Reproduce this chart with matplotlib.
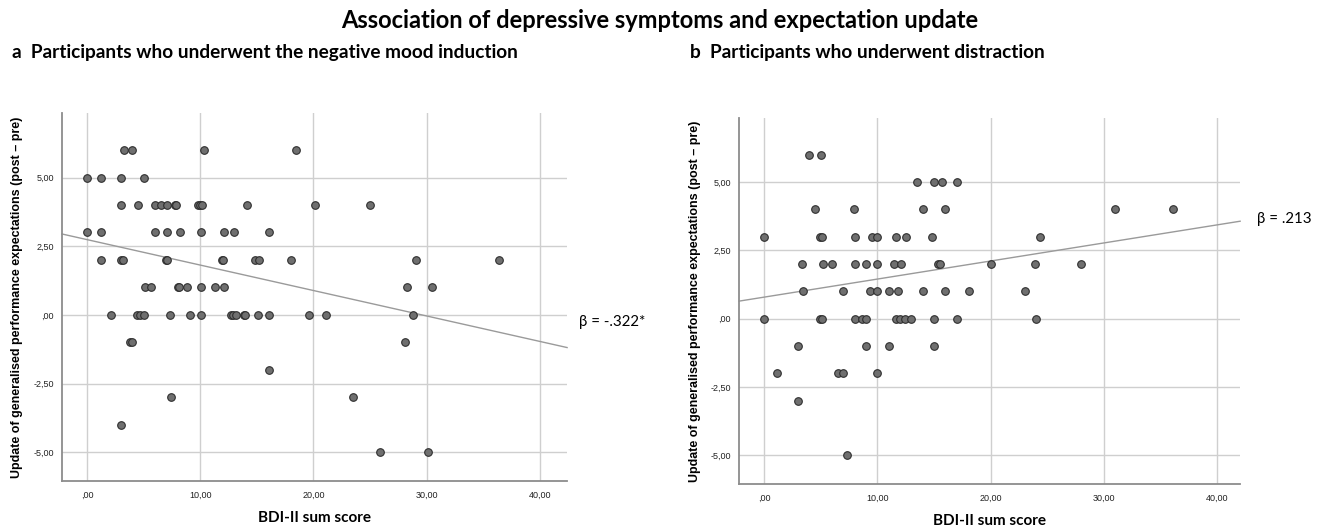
import matplotlib
matplotlib.use("Agg")
import matplotlib.pyplot as plt
from matplotlib.ticker import FuncFormatter
import numpy as np

# ---- data (BDI-II score, expectation update) ----
neg_bdi = [3.3, 4.0, 10.3, 18.5,
           0.0, 1.2, 3.0, 5.0,
           3.0, 4.5, 6.0, 6.5, 7.1, 7.8, 7.9, 9.8, 10.0, 10.2, 14.1, 20.1, 25.0,
           0.0, 1.2, 6.0, 7.1, 8.2, 10.1, 12.1, 13.0, 16.1,
           1.2, 3.0, 3.2, 7.0, 7.1, 11.9, 12.0, 14.8, 15.2, 18.0, 29.1, 36.4,
           5.1, 5.7, 8.0, 8.1, 8.8, 10.1, 11.3, 12.1, 28.3, 30.5,
           2.1, 4.4, 4.7, 5.0, 7.3, 9.1, 10.1, 12.7, 12.9, 13.2, 13.9, 14.0,
           15.1, 16.1, 19.6, 21.1, 28.8,
           3.8, 4.0, 28.1,
           16.1,
           7.4, 23.5,
           3.0,
           25.9, 30.1]
neg_update = [6] * 4 + [5] * 4 + [4] * 13 + [3] * 9 + [2] * 12 + [1] * 10 \
    + [0] * 17 + [-1] * 3 + [-2] * 1 + [-3] * 2 + [-4] * 1 + [-5] * 2

dis_bdi = [4.0, 5.0,
           13.5, 15.0, 15.7, 17.0,
           4.5, 7.9, 14.0, 16.0, 31.0, 36.1,
           0.0, 4.9, 5.1, 8.0, 9.5, 10.0, 11.6, 12.5, 14.8, 24.3,
           3.3, 5.2, 6.0, 8.0, 9.0, 10.0, 11.5, 12.1, 15.3, 15.5, 20.0, 23.9, 28.0,
           3.4, 7.0, 9.3, 10.0, 11.0, 11.8, 14.0, 16.0, 18.1, 23.0,
           0.0, 4.9, 5.1, 8.0, 8.6, 9.0, 11.6, 12.0, 12.4, 13.0, 15.0, 17.0, 24.0,
           3.0, 9.0, 11.0, 15.0,
           1.1, 6.5, 7.0, 10.0,
           3.0,
           7.3]
dis_update = [6] * 2 + [5] * 4 + [4] * 6 + [3] * 10 + [2] * 13 + [1] * 10 \
    + [0] * 13 + [-1] * 4 + [-2] * 4 + [-3] * 1 + [-5] * 1

# fit lines as shown (intercept, slope)
neg_fit = (2.74, -0.0927)
dis_fit = (0.79, 0.0661)
neg_beta = "β = -.322*"
dis_beta = "β = .213"

X_TICKS = [0, 10, 20, 30, 40]
Y_TICKS = [-5, -2.5, 0, 2.5, 5]

TITLE_FONT = ["Lato", "DejaVu Sans"]
TICK_FONT = ["Liberation Sans", "DejaVu Sans"]


def spss_fmt(v, pos=None):
    s = f"{v:.2f}".replace(".", ",")
    if s.startswith("0,"):
        s = s[1:]
    elif s.startswith("-0,"):
        s = "-" + s[2:]
    return s


def scatter_panel(ax, x, y, fit, beta, xlim, beta_xy):
    ax.set_xlim(*xlim)
    ax.set_ylim(-6.05, 7.35)
    ax.set_xticks(X_TICKS)
    ax.set_yticks(Y_TICKS)
    ax.grid(True, color="#cfcfcf", linewidth=1.0)
    ax.set_axisbelow(True)
    for side in ("top", "right"):
        ax.spines[side].set_visible(False)
    for side in ("left", "bottom"):
        ax.spines[side].set_color("#8c8c8c")
        ax.spines[side].set_linewidth(1.3)
    ax.tick_params(length=0, labelsize=6.5, colors="#222222")
    ax.tick_params(axis="x", pad=7)
    ax.tick_params(axis="y", pad=6)
    ax.xaxis.set_major_formatter(FuncFormatter(spss_fmt))
    ax.yaxis.set_major_formatter(FuncFormatter(spss_fmt))
    for lab in ax.get_xticklabels() + ax.get_yticklabels():
        lab.set_family(TICK_FONT)

    ax.scatter(x, y, s=30, facecolor="#6f6f6f", edgecolor="#2e2e2e",
               linewidth=0.8, zorder=3)

    xs = np.array(xlim)
    ax.plot(xs, fit[0] + fit[1] * xs, color="#9a9a9a", linewidth=1.0,
            zorder=2, clip_on=False)

    ax.text(beta_xy[0], beta_xy[1], beta, transform=ax.transAxes,
            fontsize=10.8, family=TITLE_FONT, va="center", ha="left")

    ax.set_xlabel("BDI-II sum score", fontsize=11, fontweight="bold",
                  family=TITLE_FONT, labelpad=8)
    ax.set_ylabel("Update of generalised performance expectations (post \u2013 pre)",
                  fontsize=9, fontweight="bold", family=TICK_FONT, labelpad=7)


fig = plt.figure(figsize=(13.2, 5.28), dpi=100)

ax_a = fig.add_axes([0.047, 0.089, 0.3826, 0.697])
ax_b = fig.add_axes([0.560, 0.083, 0.3795, 0.694])

scatter_panel(ax_a, neg_bdi, neg_update, neg_fit, neg_beta, (-2.2, 42.4),
              (1.024, 0.432))
scatter_panel(ax_b, dis_bdi, dis_update, dis_fit, dis_beta, (-2.2, 42.0),
              (1.034, 0.723))

fig.text(0.5, 0.962, "Association of depressive symptoms and expectation update",
         ha="center", va="center", fontsize=17, fontweight="bold",
         family=TITLE_FONT)
fig.text(0.009, 0.901, "a  Participants who underwent the negative mood induction",
         ha="left", va="center", fontsize=13.7, fontweight="bold",
         family=TITLE_FONT)
fig.text(0.523, 0.901, "b  Participants who underwent distraction",
         ha="left", va="center", fontsize=13.7, fontweight="bold",
         family=TITLE_FONT)

fig.savefig("out.png", dpi=100)
